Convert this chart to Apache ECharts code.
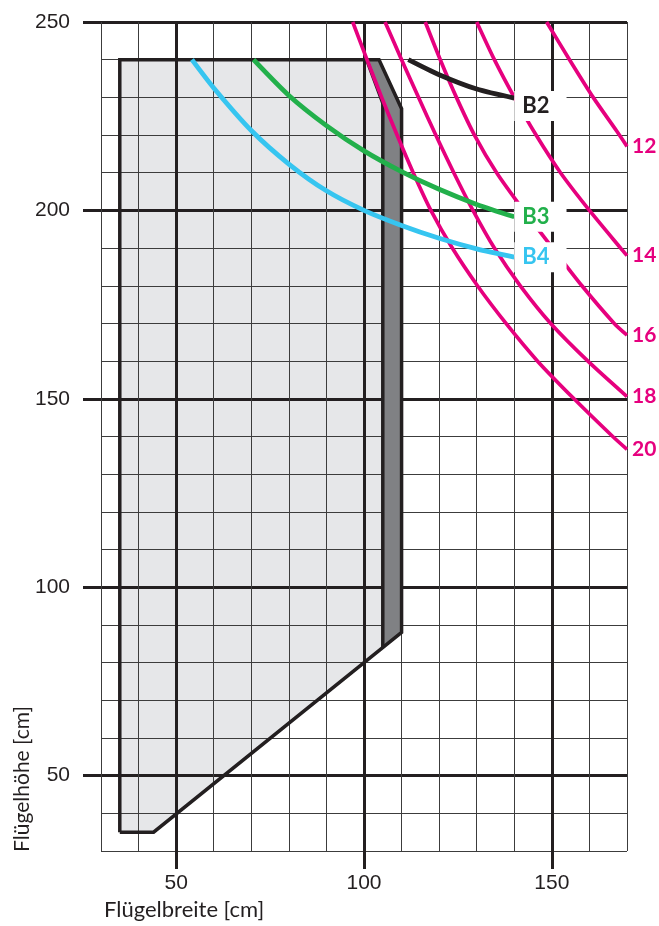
<!DOCTYPE html>
<html><head><meta charset="utf-8">
<script src="https://cdn.jsdelivr.net/npm/echarts@6/dist/echarts.min.js"></script>
<style>html,body{margin:0;padding:0;background:#fff}#c{width:659px;height:926px}</style>
</head><body><div id="c"></div>
<script>
// ---- data ----
const xMajorTicks = [50, 100, 150];
const yMajorTicks = [50, 100, 150, 200, 250];
const curve12 = [[148.6,250],[154.7,240],[161,230],[167.3,221],[170,217]];
const curve14 = [[130,250],[134.7,240],[140,230],[145.8,220],[152.3,210],[160,200],[168.3,190],[170,188]];
const curve16 = [[116.3,250],[120.3,240],[124.6,230],[129.4,220],[135.3,210],[142.5,200],[150.2,190],[158,180],[166.6,170],[170,166.9]];
const curve18 = [[105.6,250],[110,240],[114.5,230],[119.1,220],[123.9,210],[129,200],[134.7,190],[141.6,180],[149.7,170],[159.6,160],[170,150.6]];
const curve20 = [[97,250],[100.8,240],[104.7,230],[108.8,220],[113.1,210],[117.8,200],[123.5,190],[130.2,180],[137.8,170],[146.2,160],[155.9,150],[166.2,140],[170,136.6]];
const curveLabels = ['12','14','16','18','20'];
const lineB2 = [[111.8,240],[120,236],[130,232.2],[140,229.8]];
const lineB3 = [[70.6,240],[80,230.5],[90,222.5],[100,215.8],[110,210.3],[120,205.6],[130,201.6],[140,198.3]];
const lineB4 = [[54.2,240],[60,232.5],[70,221.2],[80,212.3],[90,205.2],[100,200],[110,196],[120,192.6],[130,189.8],[140,187.6]];
const bLabels = ['B2','B3','B4'];
const areaLight = [[35,35],[35,240],[100.7,240],[105,228.5],[105,84],[44,35]];
const areaDark = [[100.7,240],[104,240],[110,227],[110,88],[105,84],[105,228.5]];
const outline = [[35,35],[35,240],[104,240],[110,227],[110,88],[44,35],[35,35]];
const innerEdge = [[100.7,240],[105,228.5],[105,84]];
const xTitle = 'Flügelbreite [cm]';
const yTitle = 'Flügelhöhe [cm]';

// ---- styles ----
const INK = '#231f20';
const PINK = '#e6007e';
const HUM = 'Lato, "Open Sans", sans-serif';
const NUM = '"Liberation Sans", Arial, sans-serif';

const chart = echarts.init(document.getElementById('c'), null, {renderer: 'canvas'});

function polygon(points, color, z) {
  return {
    type: 'custom', z: z, silent: true, animation: false,
    data: [[points[0][0], points[0][1]]],
    renderItem: function (params, api) {
      return { type: 'polygon', shape: { points: points.map(function (p) { return api.coord(p); }) },
               style: { fill: color } };
    }
  };
}
function line(points, color, width, z, label, lbl) {
  const s = {
    type: 'line', data: points, z: z, symbol: 'none', silent: true, animation: false,
    smooth: label ? 0.25 : false,
    lineStyle: { color: color, width: width, join: 'miter', cap: 'butt' }
  };
  if (label) s.endLabel = Object.assign({ show: true, formatter: label }, lbl);
  return s;
}
const pinkLbl = { color: PINK, fontFamily: HUM, fontWeight: 'bold', fontSize: 21, distance: 5 };
function bLbl(color, off) {
  return { color: color, fontFamily: HUM, fontWeight: 'bold', fontSize: 22, distance: 0,
           backgroundColor: '#fff', padding: [4, 17, 4, 8], offset: [0, off] };
}

chart.setOption({
  animation: false,
  grid: { left: 101, top: 22, width: 526, height: 829, containLabel: false },
  xAxis: [
    { type: 'value', min: 30, max: 170, interval: 10, position: 'bottom',
      axisLine: { show: false }, axisTick: { show: false }, axisLabel: { show: false },
      splitLine: { show: true, lineStyle: { color: '#3c3c3c', width: 1 } } },
    { type: 'value', min: 30, max: 170, position: 'bottom', offset: 0,
      axisLine: { show: false },
      axisTick: { show: true, customValues: xMajorTicks, length: 18, lineStyle: { color: INK, width: 3 } },
      axisLabel: { show: true, customValues: xMajorTicks, margin: 22, color: INK, fontSize: 21, fontFamily: NUM },
      splitLine: { show: true, lineStyle: { color: INK, width: 3 } } }
  ],
  yAxis: [
    { type: 'value', min: 30, max: 250, interval: 10, position: 'left',
      axisLine: { show: false }, axisTick: { show: false }, axisLabel: { show: false },
      splitLine: { show: true, lineStyle: { color: '#3c3c3c', width: 1 } } },
    { type: 'value', min: 30, max: 250, position: 'left', offset: 0,
      axisLine: { show: false },
      axisTick: { show: true, customValues: yMajorTicks, length: 18, lineStyle: { color: INK, width: 3 } },
      axisLabel: { show: true, customValues: yMajorTicks, margin: 31, color: INK, fontSize: 21, fontFamily: NUM },
      splitLine: { show: true, lineStyle: { color: INK, width: 3 } } }
  ],
  graphic: [
    { type: 'text', left: 104, top: 899, style: { text: xTitle, fill: INK, font: '22px ' + HUM } },
    { type: 'text', x: 22, y: 779, rotation: Math.PI / 2,
      style: { text: yTitle, fill: INK, font: '21px ' + HUM, align: 'center', verticalAlign: 'middle' } }
  ],
  series: [
    polygon(areaLight, '#e6e7e9', -1),
    polygon(areaDark, '#808184', 1),
    line(outline, INK, 3.5, 2),
    line(innerEdge, INK, 3.5, 2),
    line(curve12, PINK, 3.7, 3, curveLabels[0], pinkLbl),
    line(curve14, PINK, 3.7, 3, curveLabels[1], pinkLbl),
    line(curve16, PINK, 3.7, 3, curveLabels[2], pinkLbl),
    line(curve18, PINK, 3.7, 3, curveLabels[3], pinkLbl),
    line(curve20, PINK, 3.7, 3, curveLabels[4], pinkLbl),
    line(lineB2, INK, 4.8, 5, bLabels[0], bLbl(INK, 8)),
    line(lineB3, '#22b04b', 4.8, 5, bLabels[1], bLbl('#22b04b', 0)),
    line(lineB4, '#36c5f0', 4.8, 5, bLabels[2], bLbl('#36c5f0', 0))
  ]
});
</script></body></html>
